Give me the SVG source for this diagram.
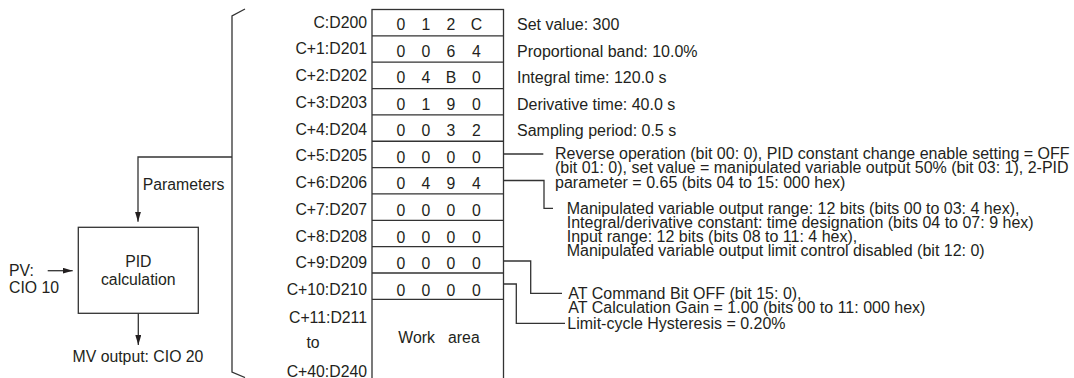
<svg xmlns="http://www.w3.org/2000/svg" width="1074" height="378" viewBox="0 0 1074 378">
<defs>
<style>
text{font-family:"Liberation Sans",Arial,sans-serif;font-size:15.8px;fill:#231f20}
.ds text{font-size:16px}
.ln{fill:none;stroke:#333;stroke-width:1.3}
.lbl{text-anchor:end}
.dg{text-anchor:middle}
.mid{text-anchor:middle}
</style>
<marker id="ah" viewBox="0 0 10 6" refX="10" refY="3" markerWidth="10" markerHeight="6" markerUnits="userSpaceOnUse" orient="auto">
<path d="M0,0 L10,3 L0,6 Z" fill="#231f20"/>
</marker>
</defs>
<rect width="1074" height="378" fill="#fff"/>

<g id="pid-node">
<rect class="ln" x="78.3" y="227.3" width="120" height="86"/>
<text class="mid" x="138.3" y="267.3">PID</text>
<text class="mid" x="138.3" y="285.3">calculation</text>
</g>
<g id="pv-label">
<text x="9" y="276">PV:</text>
<text x="9" y="293.3">CIO 10</text>
</g>
<g id="mv-label">
<text class="mid" x="138" y="361.7">MV output: CIO 20</text>
</g>
<g id="params-label">
<text x="142.7" y="189.5">Parameters</text>
</g>
<g id="bracket">
<path class="ln" d="M245,9 L232,16 L232,372 L245,377.5"/>
</g>

<g id="table">
<rect class="ln" x="372" y="9.5" width="131.5" height="370"/>
<path class="ln" d="M372,35.85H503.5M372,62.2H503.5M372,88.55H503.5M372,114.9H503.5M372,141.25H503.5M372,167.6H503.5M372,193.95H503.5M372,220.3H503.5M372,246.65H503.5M372,273H503.5M372,299.35H503.5"/>
<g class="lbls">
<text class="lbl" x="367" y="27.5">C:D200</text>
<text class="lbl" x="367" y="54.25">C+1:D201</text>
<text class="lbl" x="367" y="81">C+2:D202</text>
<text class="lbl" x="367" y="107.75">C+3:D203</text>
<text class="lbl" x="367" y="134.5">C+4:D204</text>
<text class="lbl" x="367" y="161.25">C+5:D205</text>
<text class="lbl" x="367" y="188">C+6:D206</text>
<text class="lbl" x="367" y="214.75">C+7:D207</text>
<text class="lbl" x="367" y="241.5">C+8:D208</text>
<text class="lbl" x="367" y="268.25">C+9:D209</text>
<text class="lbl" x="367" y="295">C+10:D210</text>
<text class="lbl" x="367" y="323">C+11:D211</text>
<text class="mid" x="313" y="348">to</text>
<text class="lbl" x="367" y="376.5">C+40:D240</text>
</g>
<g class="dg">
<text x="401" y="30">0</text><text x="426" y="30">1</text><text x="451" y="30">2</text><text x="476.5" y="30">C</text>
<text x="401" y="56.6">0</text><text x="426" y="56.6">0</text><text x="451" y="56.6">6</text><text x="476.5" y="56.6">4</text>
<text x="401" y="83.1">0</text><text x="426" y="83.1">4</text><text x="451" y="83.1">B</text><text x="476.5" y="83.1">0</text>
<text x="401" y="109.7">0</text><text x="426" y="109.7">1</text><text x="451" y="109.7">9</text><text x="476.5" y="109.7">0</text>
<text x="401" y="136.3">0</text><text x="426" y="136.3">0</text><text x="451" y="136.3">3</text><text x="476.5" y="136.3">2</text>
<text x="401" y="162.9">0</text><text x="426" y="162.9">0</text><text x="451" y="162.9">0</text><text x="476.5" y="162.9">0</text>
<text x="401" y="189.4">0</text><text x="426" y="189.4">4</text><text x="451" y="189.4">9</text><text x="476.5" y="189.4">4</text>
<text x="401" y="216">0</text><text x="426" y="216">0</text><text x="451" y="216">0</text><text x="476.5" y="216">0</text>
<text x="401" y="242.6">0</text><text x="426" y="242.6">0</text><text x="451" y="242.6">0</text><text x="476.5" y="242.6">0</text>
<text x="401" y="269.1">0</text><text x="426" y="269.1">0</text><text x="451" y="269.1">0</text><text x="476.5" y="269.1">0</text>
<text x="401" y="295.7">0</text><text x="426" y="295.7">0</text><text x="451" y="295.7">0</text><text x="476.5" y="295.7">0</text>
</g>
<text class="mid" x="439" y="343.3" xml:space="preserve">Work   area</text>
</g>

<g class="ds">
<g id="desc-d200"><text x="517" y="30">Set value: 300</text></g>
<g id="desc-d201"><text x="517" y="56.6">Proportional band: 10.0%</text></g>
<g id="desc-d202"><text x="517" y="83.1">Integral time: 120.0 s</text></g>
<g id="desc-d203"><text x="517" y="109.7">Derivative time: 40.0 s</text></g>
<g id="desc-d204"><text x="517" y="136.3">Sampling period: 0.5 s</text></g>
<g id="desc-d205">
<text x="555" y="158.8">Reverse operation (bit 00: 0), PID constant change enable setting = OFF</text>
<text x="555" y="173.4">(bit 01: 0), set value = manipulated variable output 50% (bit 03: 1), 2-PID</text>
<text x="555" y="188">parameter = 0.65 (bits 04 to 15: 000 hex)</text>
</g>
<g id="desc-d206">
<text x="566.7" y="213.5">Manipulated variable output range: 12 bits (bits 00 to 03: 4 hex),</text>
<text x="566.7" y="227.7">Integral/derivative constant: time designation (bits 04 to 07: 9 hex)</text>
<text x="566.7" y="241.9">Input range: 12 bits (bits 08 to 11: 4 hex),</text>
<text x="566.7" y="256.1">Manipulated variable output limit control disabled (bit 12: 0)</text>
</g>
<g id="desc-d209">
<text x="568.3" y="298.8">AT Command Bit OFF (bit 15: 0),</text>
<text x="568.3" y="313.4">AT Calculation Gain = 1.00 (bits 00 to 11: 000 hex)</text>
</g>
<g id="desc-d210">
<text x="567.3" y="328.5">Limit-cycle Hysteresis = 0.20%</text>
</g>
</g>

<g id="connectors">
<path class="ln" d="M232,157 H138 V221.7" marker-end="url(#ah)"/>
<path class="ln" d="M47.7,270.7 H72.7" marker-end="url(#ah)"/>
<path class="ln" d="M138.3,313.3 V345" marker-end="url(#ah)"/>
<path class="ln" d="M503.5,154 H543.3"/>
<path class="ln" d="M503.5,180.5 H544 V208.3 H553"/>
<path class="ln" d="M503.5,261 H530.7 V293.3 H562"/>
<path class="ln" d="M503.5,284 H516.3 V323.3 H565"/>
</g>
</svg>
